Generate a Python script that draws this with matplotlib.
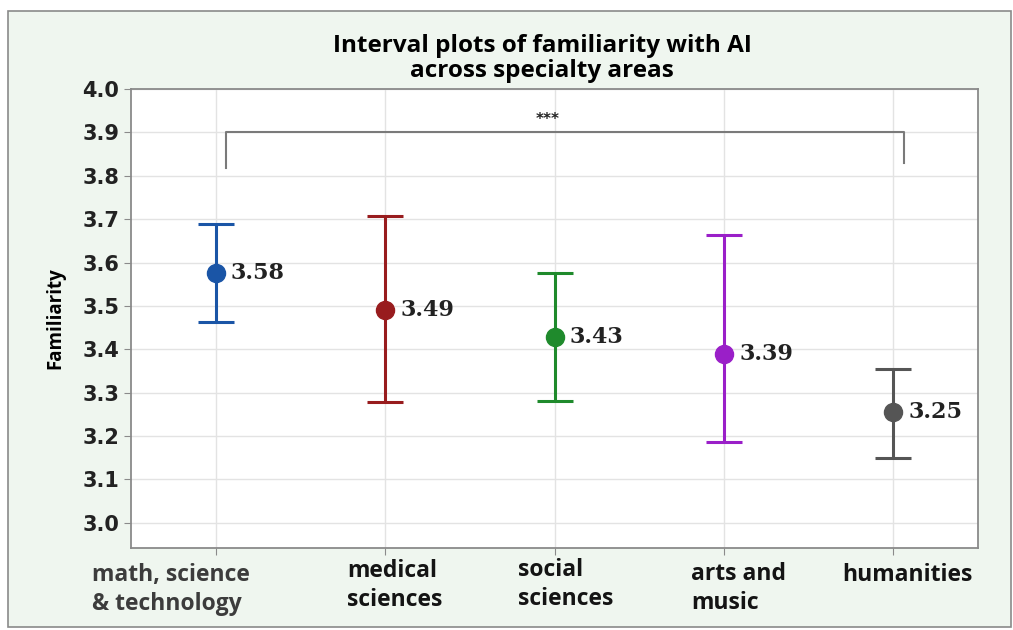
import matplotlib.pyplot as plt
from matplotlib.patches import Rectangle
from matplotlib.transforms import blended_transform_factory

# data
areas = ["math, science\n& technology", "medical\nsciences", "social\nsciences", "arts and\nmusic", "humanities"]
means = [3.575, 3.491, 3.429, 3.389, 3.256]
lower = [3.462, 3.279, 3.281, 3.187, 3.150]
upper = [3.689, 3.707, 3.576, 3.664, 3.355]
labels = ["3.58", "3.49", "3.43", "3.39", "3.25"]
colors = ["#1a55a6", "#981c1e", "#1f8a2c", "#9a1fc8", "#555555"]

# where each category label starts, relative to its tick (the source has them off-centre)
label_shift = [-0.73, -0.225, -0.215, -0.194, -0.303]
label_drop = [0.0, 0.009, 0.011, 0.002, 0.0]
label_color = ["#3c3c3c", "#141414", "#141414", "#141414", "#141414"]

fig = plt.figure(figsize=(10.13, 6.30), dpi=100)
fig.patch.set_facecolor("white")
fig.patches.append(Rectangle((0.008, 0.005), 0.99, 0.977, transform=fig.transFigure,
                             facecolor="#eff6ef", edgecolor="#8a8a8a", lw=1.2, zorder=-10))

ax = fig.add_axes([0.1293, 0.1302, 0.8362, 0.7285])
ax.set_facecolor("white")

for i in range(len(areas)):
    err = [[means[i] - lower[i]], [upper[i] - means[i]]]
    ax.errorbar(i, means[i], yerr=err, fmt="o", color=colors[i], ms=13,
                capsize=13, elinewidth=2.2, capthick=2.2, zorder=3)
    ax.text(i + 0.09, means[i], labels[i], family="DejaVu Serif", fontweight="bold",
            fontsize=16, va="center", ha="left", color="#222222", zorder=4)

# significance bracket
ax.plot([0.06, 0.06, 4.06, 4.06], [3.818, 3.9, 3.9, 3.83], color="#7a7a7a", lw=1.5, zorder=2)
ax.text(1.96, 3.93, "***", ha="center", va="center", fontsize=11, fontweight="bold", color="#222222")

ax.set_xlim(-0.5, 4.5)
ax.set_ylim(2.942, 4.0)
ax.set_yticks([3.0, 3.1, 3.2, 3.3, 3.4, 3.5, 3.6, 3.7, 3.8, 3.9, 4.0])
ax.set_xticks(range(len(areas)))
ax.set_xticklabels([])
for t in ax.get_yticklabels():
    t.set_fontweight("bold")
    t.set_fontsize(15)
    t.set_color("#222222")

trans = blended_transform_factory(ax.transData, ax.transAxes)
for i in range(len(areas)):
    ax.text(i + label_shift[i], -0.033 + label_drop[i], areas[i], transform=trans,
            ha="left", va="top", family="Open Sans", fontweight="bold", fontsize=16.5,
            color=label_color[i], linespacing=1.27)

ax.grid(True, color="#e3e3e3", lw=1)
ax.set_axisbelow(True)
for s in ax.spines.values():
    s.set_color("#8a8a8a")
    s.set_linewidth(1.3)
ax.tick_params(axis="both", color="#8a8a8a", length=5)

ax.set_ylabel("Familiarity", family="Open Sans", fontweight="bold", fontsize=13.5, labelpad=12)
fig.text(0.535, 0.907, "Interval plots of familiarity with AI\nacross specialty areas",
         ha="center", va="center", family="Open Sans", fontweight="bold", fontsize=17.5, linespacing=1.1)

fig.savefig("out.png", dpi=100, facecolor=fig.get_facecolor())
